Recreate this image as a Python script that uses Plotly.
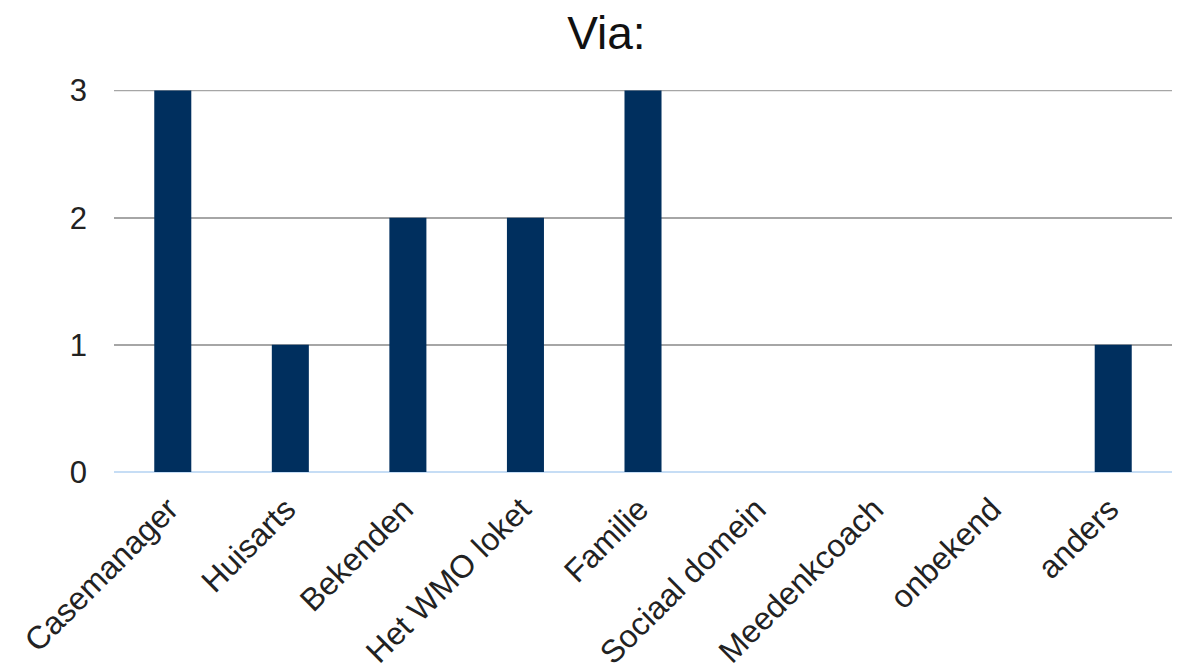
import plotly.graph_objects as go

categories = ["Casemanager", "Huisarts", "Bekenden", "Het WMO loket", "Familie",
              "Sociaal domein", "Meedenkcoach", "onbekend", "anders"]
values = [3, 1, 2, 2, 3, 0, 0, 0, 1]
y_ticks = [0, 1, 2, 3]

fig = go.Figure(go.Bar(
    x=categories, y=values,
    marker=dict(color="#002f5e", line=dict(width=0)),
))

font_family = "Liberation Sans, Arial, sans-serif"
fig.update_layout(
    width=1182, height=666,
    margin=dict(l=114, r=10, t=90, b=194),
    paper_bgcolor="white", plot_bgcolor="white",
    bargap=0.685,
    showlegend=False,
    font=dict(family=font_family, color="#222222", size=32),
    title=dict(text="Via:", x=0.513, xanchor="center", y=0.95, yanchor="middle",
               font=dict(size=46, color="#111111", family=font_family)),
    xaxis=dict(tickangle=-45, showgrid=False, showline=False, zeroline=False,
               automargin=False,
               ticks="", ticklabelstandoff=11, ticklabelshift=-4, tickfont=dict(size=32)),
    yaxis=dict(range=[0, 3.004], tickvals=y_ticks, showgrid=True, gridcolor="#a6a6a6",
               gridwidth=1.5, zeroline=True, zerolinecolor="#c6ddf5", zerolinewidth=2,
               automargin=False,
               showline=False, ticks="", ticklabelstandoff=26, tickfont=dict(size=31)),
    shapes=[dict(type="line", xref="paper", x0=0, x1=1, yref="y", y0=y_ticks[-1], y1=y_ticks[-1],
                 line=dict(color="#a6a6a6", width=1.5), layer="below")],
)

fig.write_html("out.html", config={"displayModeBar": False},
               post_script="document.body.style.margin='0px';")
